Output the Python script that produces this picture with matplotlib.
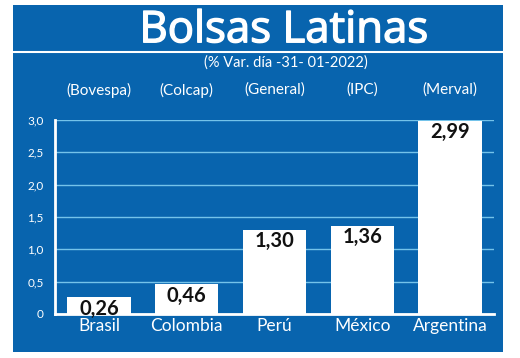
import matplotlib
matplotlib.use("Agg")
import matplotlib.pyplot as plt
import matplotlib.transforms as mtrans
import matplotlib.patheffects as pe
from matplotlib.patches import Rectangle
from matplotlib.lines import Line2D

countries = ["Brasil", "Colombia", "Perú", "México", "Argentina"]
indices = ["(Bovespa)", "(Colcap)", "(General)", "(IPC)", "(Merval)"]
values = [0.26, 0.46, 1.30, 1.36, 2.99]
value_labels = ["0,26", "0,46", "1,30", "1,36", "2,99"]
yticks = [0, 0.5, 1.0, 1.5, 2.0, 2.5, 3.0]
ytick_labels = ["0", "0,5", "1,0", "1,5", "2,0", "2,5", "3,0"]

BLUE = "#0864AE"
GRID = "#74C3EA"
FONT = "Lato"

W, H = 520, 358
fig = plt.figure(figsize=(W / 100, H / 100), dpi=100)
fig.patch.set_facecolor("white")

def fx(px):
    return px / W

def fy(py):
    return 1 - py / H

# blue panel
fig.patches.append(Rectangle((fx(13), fy(352)), fx(503) - fx(13), fy(5) - fy(352),
                             transform=fig.transFigure, facecolor=BLUE, edgecolor="none", zorder=-5))
# white separator line
fig.lines.append(Line2D([fx(13), fx(503)], [fy(52), fy(52)], transform=fig.transFigure,
                        color="white", lw=1.5, zorder=-4))

fig.text(fx(284), fy(31), "Bolsas Latinas", color="white", fontsize=31.5, family="Open Sans",
         ha="center", va="center",
         path_effects=[pe.withStroke(linewidth=1.0, foreground="white")])
fig.text(fx(286), fy(63), "(% Var. día -31- 01-2022)", color="white", fontsize=10.5,
         family=FONT, ha="center", va="center")

ax = fig.add_axes([fx(55), fy(314), fx(494) - fx(55), fy(120) - fy(314)])
ax.set_zorder(2)
ax.set_facecolor("none")
x = list(range(len(countries)))
ax.bar(x, values, width=0.72, color="white", zorder=3)
ax.set_xlim(-0.5, 4.5)
ax.set_ylim(0, 3.0)
ax.set_yticks(yticks)
ax.set_yticklabels(ytick_labels, color="white", fontsize=8.5, family=FONT)
ax.set_xticks(x)
ax.set_xticklabels(countries, color="white", fontsize=12.5, family=FONT)
ax.tick_params(axis="both", length=0)
ax.tick_params(axis="x", pad=3)
ax.tick_params(axis="y", pad=8)
ax.grid(axis="y", color=GRID, lw=1, zorder=1)
ax.set_axisbelow(True)
for s in ["top", "right"]:
    ax.spines[s].set_visible(False)
for s in ["left", "bottom"]:
    ax.spines[s].set_color("white")
    ax.spines[s].set_linewidth(2)
    ax.spines[s].set_zorder(4)

for xi, v, lab in zip(x, values, value_labels):
    ax.annotate(lab, (xi, v), xytext=(0, -1), textcoords="offset points",
                ha="center", va="top", fontsize=14.5, fontweight="bold", family=FONT,
                color="#111111", zorder=5)

tr = mtrans.blended_transform_factory(ax.transData, fig.transFigure)
for xi, lab in zip(x, indices):
    ax.text(xi, fy(90), lab, transform=tr, ha="center", va="center",
            color="white", fontsize=11, family=FONT, clip_on=False)

fig.savefig("out.png", dpi=100, facecolor="white")
